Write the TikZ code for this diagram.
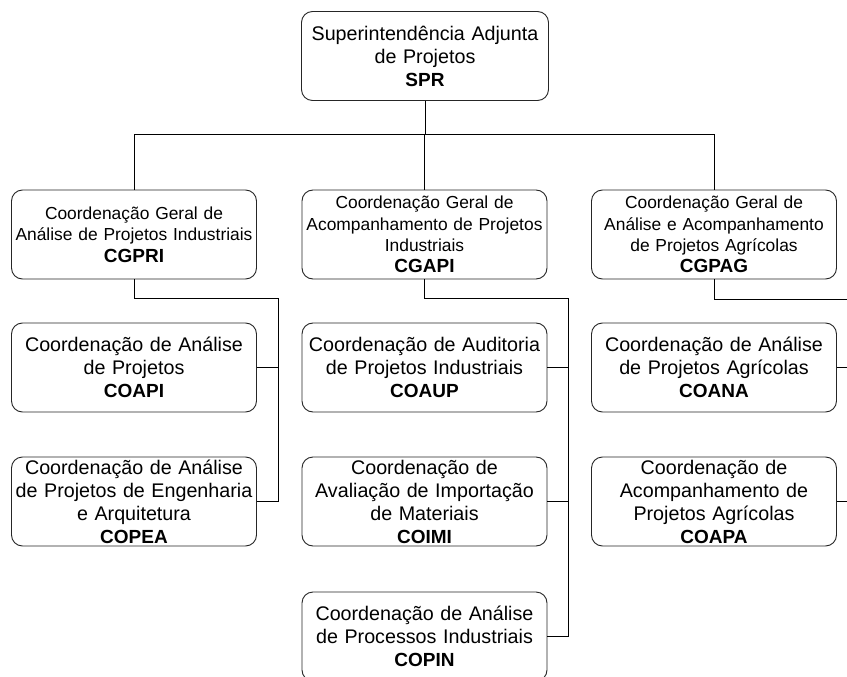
\documentclass[tikz,border=0pt]{standalone}
\usepackage{fontspec}
\setmainfont{Liberation Sans}
\begin{document}
\begin{tikzpicture}[x=1pt,y=-1pt,
  orgbox/.style={draw=black!85, line width=0.9pt, rounded corners=11pt,
    minimum width=245pt, minimum height=89pt, inner sep=0pt,
    text width=245pt, align=center},
  bigtext/.style={font=\fontsize{19.7}{23}\selectfont},
  smalltext/.style={font=\fontsize{17.4}{21.3}\selectfont},
  link/.style={draw=black, line width=0.9pt}]
\clip (0,0) rectangle (847,677);
\fill[white] (0,0) rectangle (847,677);

% top level
\node[orgbox, bigtext, minimum width=247pt, text width=247pt] (spr) at (425,56)
  {Superintendência Adjunta\\de Projetos\\\textbf{\fontsize{19}{23}\selectfont SPR}};

% general coordinations
\node[orgbox, smalltext] (cgpri) at (134,234.5)
  {Coordenação Geral de\\Análise de Projetos Industriais\\\textbf{\fontsize{19}{21.3}\selectfont CGPRI}};
\node[orgbox, smalltext] (cgapi) at (424.5,234.5)
  {Coordenação Geral de\\Acompanhamento de Projetos\\Industriais\\\textbf{\fontsize{19}{21.3}\selectfont CGAPI}};
\node[orgbox, smalltext] (cgpag) at (714,234.5)
  {Coordenação Geral de\\Análise e Acompanhamento\\de Projetos Agrícolas\\\textbf{\fontsize{19}{21.3}\selectfont CGPAG}};

% coordinations
\node[orgbox, bigtext] (coapi) at (134,367.5)
  {Coordenação de Análise\\de Projetos\\\textbf{\fontsize{19}{23}\selectfont COAPI}};
\node[orgbox, bigtext] (coaup) at (424.5,367.5)
  {Coordenação de Auditoria\\de Projetos Industriais\\\textbf{\fontsize{19}{23}\selectfont COAUP}};
\node[orgbox, bigtext] (coana) at (714,367.5)
  {Coordenação de Análise\\de Projetos Agrícolas\\\textbf{\fontsize{19}{23}\selectfont COANA}};

\node[orgbox, bigtext] (copea) at (134,501.5)
  {Coordenação de Análise\\de Projetos de Engenharia\\e Arquitetura\\\textbf{\fontsize{19}{23}\selectfont COPEA}};
\node[orgbox, bigtext] (coimi) at (424.5,501.5)
  {Coordenação de\\Avaliação de Importação\\de Materiais\\\textbf{\fontsize{19}{23}\selectfont COIMI}};
\node[orgbox, bigtext] (coapa) at (714,501.5)
  {Coordenação de\\Acompanhamento de\\Projetos Agrícolas\\\textbf{\fontsize{19}{23}\selectfont COAPA}};

\node[orgbox, bigtext] (copin) at (424.5,636.5)
  {Coordenação de Análise\\de Processos Industriais\\\textbf{\fontsize{19}{23}\selectfont COPIN}};

% bus below the superintendence
\coordinate (bus) at (425,134);
\draw[link] (spr.south) -- (bus);
\draw[link] (cgpri.north) -- (cgpri.north |- bus) -- (cgpag.north |- bus) -- (cgpag.north);
\draw[link] (cgapi.north) -- (cgapi.north |- bus);

% left branch
\coordinate (jl) at (278,298);
\draw[link] (cgpri.south) |- (jl) -- (jl |- copea.east) -- (copea.east);
\draw[link] (coapi.east) -- (coapi.east -| jl);

% middle branch
\coordinate (jm) at (568,298);
\draw[link] (cgapi.south) |- (jm) -- (jm |- copin.east) -- (copin.east);
\draw[link] (coaup.east) -- (coaup.east -| jm);
\draw[link] (coimi.east) -- (coimi.east -| jm);

% right branch
\coordinate (jr) at (858,299);
\draw[link] (cgpag.south) |- (jr) -- (jr |- coapa.east) -- (coapa.east);
\draw[link] (coana.east) -- (coana.east -| jr);
\end{tikzpicture}
\end{document}
